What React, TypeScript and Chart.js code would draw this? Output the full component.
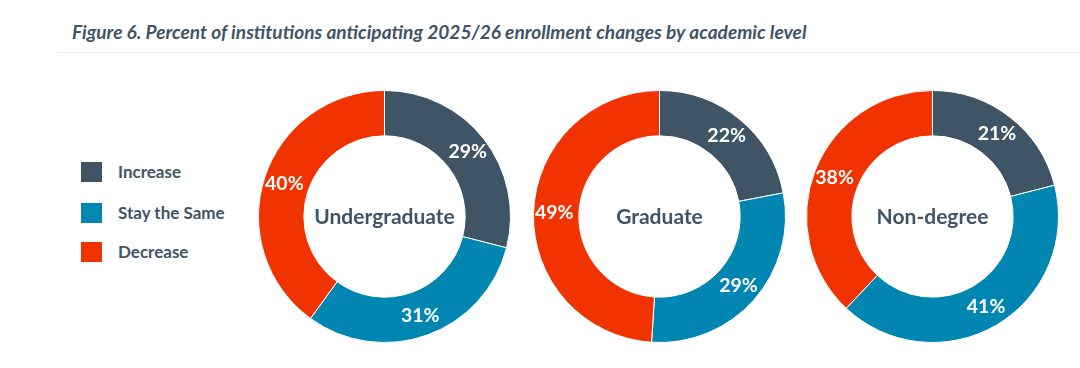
import React, { useEffect, useRef } from "react";
import { Chart, registerables } from "chart.js";

Chart.register(...registerables);

const categories = ["Increase", "Stay the Same", "Decrease"];
const levels = ["Undergraduate", "Graduate", "Non-degree"];
const undergraduateValues = [29, 31, 40];
const graduateValues = [22, 29, 49];
const nonDegreeValues = [21, 41, 38];
const seriesByLevel = [undergraduateValues, graduateValues, nonDegreeValues];

const COLORS = ["#3F5566", "#0086B0", "#F03300"];
const TEXT = "#3F5566";
const FONT = "Lato, 'Open Sans', sans-serif";

const labelPlugin = {
  id: "ringLabels",
  afterDatasetsDraw(chart: any, _args: any, opts: any) {
    const ctx = chart.ctx;
    const meta = chart.getDatasetMeta(0);
    const data = chart.data.datasets[0].data as number[];
    ctx.save();
    ctx.textAlign = "center";
    ctx.textBaseline = "middle";
    ctx.fillStyle = "#ffffff";
    ctx.font = `bold 19.5px ${FONT}`;
    meta.data.forEach((arc: any, i: number) => {
      const p = arc.getProps(["x", "y", "startAngle", "endAngle", "innerRadius", "outerRadius"], true);
      const mid = (p.startAngle + p.endAngle) / 2;
      const r = (p.innerRadius + p.outerRadius) / 2 + 2;
      ctx.fillText(`${data[i]}%`, p.x + Math.cos(mid) * r, p.y + Math.sin(mid) * r);
    });
    const first = meta.data[0];
    if (first) {
      ctx.fillStyle = TEXT;
      ctx.font = `bold 21px ${FONT}`;
      ctx.fillText(opts.center, first.x, first.y + 1);
    }
    ctx.restore();
  },
};

function Donut({ values, title, cx, cy }: { values: number[]; title: string; cx: number; cy: number }) {
  const ref = useRef<HTMLCanvasElement>(null);
  useEffect(() => {
    if (!ref.current) return;
    const chart = new Chart(ref.current, {
      type: "doughnut",
      data: {
        labels: categories,
        datasets: [
          {
            data: values,
            backgroundColor: COLORS,
            borderColor: "#ffffff",
            borderWidth: 1,
          },
        ],
      },
      options: {
        animation: false,
        responsive: true,
        maintainAspectRatio: false,
        cutout: "64%",
        layout: { padding: 0 },
        plugins: {
          legend: { display: false },
          tooltip: { enabled: false },
          ringLabels: { center: title },
        } as any,
      },
      plugins: [labelPlugin],
    });
    return () => chart.destroy();
  }, [values, title]);
  const size = 253;
  return (
    <div
      style={{
        position: "absolute",
        left: cx - size / 2,
        top: cy - size / 2,
        width: size,
        height: size,
      }}
    >
      <canvas ref={ref} />
    </div>
  );
}

const centersX = [384, 659, 932.5];
const centerY = 216.5;
const legendY = [172, 213, 252];

export default function App() {
  return (
    <div style={{ position: "absolute", left: 0, top: 0, width: 1080, height: 368, background: "#fff", fontFamily: FONT }}>
      <div
        style={{
          position: "absolute",
          left: 72,
          top: 20,
          fontSize: 19.1,
          fontWeight: 700,
          fontStyle: "italic",
          color: TEXT,
          whiteSpace: "nowrap",
          lineHeight: "24px",
        }}
      >
        Figure 6. Percent of institutions anticipating 2025/26 enrollment changes by academic level
      </div>
      <div style={{ position: "absolute", left: 57, top: 52, width: 1023, height: 1, background: "#f0f0f0" }} />
      {categories.map((c, i) => (
        <div key={c}>
          <div
            style={{
              position: "absolute",
              left: 81,
              top: legendY[i] - 10,
              width: 21,
              height: 20,
              background: COLORS[i],
            }}
          />
          <div
            style={{
              position: "absolute",
              left: 118,
              top: legendY[i] - 11,
              fontSize: 17,
              fontWeight: 700,
              color: TEXT,
              lineHeight: "22px",
              whiteSpace: "nowrap",
            }}
          >
            {c}
          </div>
        </div>
      ))}
      {levels.map((l, i) => (
        <Donut key={l} values={seriesByLevel[i]} title={l} cx={centersX[i]} cy={centerY} />
      ))}
    </div>
  );
}
